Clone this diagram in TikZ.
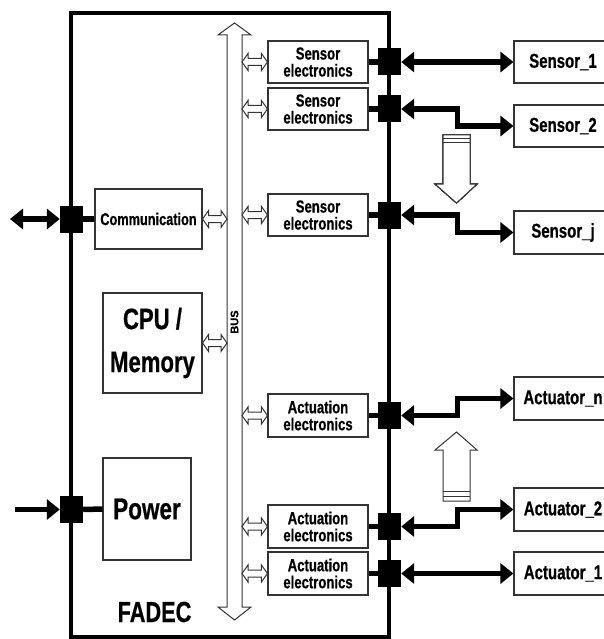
\documentclass[tikz,border=0pt]{standalone}
\usepackage{fontspec}
\setmainfont[FakeStretch=0.75,BoldFeatures={FakeBold=0.6}]{Liberation Sans}
\newfontfamily\busfont[BoldFeatures={FakeBold=0.4}]{Liberation Sans}
\usetikzlibrary{arrows.meta,calc}
\tikzset{bigtip/.tip={Triangle[length=13pt,width=20pt]}}
\newcommand{\hdarr}[2]{%
  \draw[hollow] let \p1=(#1), \p2=(#2) in
   (\x1,\y1) -- (\x1+6pt,\y1+8.5pt) -- (\x1+6pt,\y1+3.5pt) -- (\x2-6pt,\y1+3.5pt)
   -- (\x2-6pt,\y1+8.5pt) -- (\x2,\y1) -- (\x2-6pt,\y1-8.5pt) -- (\x2-6pt,\y1-3.5pt)
   -- (\x1+6pt,\y1-3.5pt) -- (\x1+6pt,\y1-8.5pt) -- cycle;}
\begin{document}
\begin{tikzpicture}[x=1pt,y=-1pt,
  box/.style={draw=black!80,line width=1.1pt,inner sep=0pt,fill=white},
  elec/.style={box,minimum width=100pt,minimum height=42pt,align=center,
     font=\fontsize{17.5}{17}\selectfont\bfseries},
  ext/.style={box,minimum width=98pt,minimum height=43pt,
     font=\fontsize{20}{22}\selectfont\bfseries},
  junc/.style={fill=black,minimum width=23pt,minimum height=27pt,inner sep=0pt},
  conn/.style={line width=5.5pt,line join=miter},
  hollow/.style={draw=black!80,line width=1pt,fill=white,line join=miter}]
\useasboundingbox (0,0) rectangle (604,639);
\clip (0,0) rectangle (604,639);
% FADEC frame
\draw[line width=3.5pt] (71,13) rectangle (389,637);
\node[font=\fontsize{29}{30}\selectfont\bfseries,anchor=base] (fadec) at (154.5,622) {FADEC};
% bus
\coordinate (busW) at (227,0);
\coordinate (busE) at (242,0);
\draw[hollow] (227,35) -- (218,35) -- (234.5,23) -- (251,35) -- (242,35) -- (242,607)
  -- (251,607) -- (234.5,620) -- (218,607) -- (227,607) -- cycle;
\node[rotate=90,font=\busfont\fontsize{11}{11}\selectfont\bfseries] (buslbl) at (234.5,322) {BUS};
% left blocks
\node[box,minimum width=107pt,minimum height=60pt,font=\fontsize{17}{18}\selectfont\bfseries] (comm) at (148.5,219) {Communication};
\node[box,minimum width=99pt,minimum height=100pt,align=center,font=\fontsize{29.5}{43}\selectfont\bfseries] (cpu) at (152.5,343) {CPU /\\Memory};
\node[box,minimum width=88pt,minimum height=102pt,font=\fontsize{30}{30}\selectfont\bfseries] (pow) at (147,509) {Power};
% electronics
\node[elec] (se1) at (318,62) {Sensor\\electronics};
\node[elec] (se2) at (318,109) {Sensor\\electronics};
\node[elec] (se3) at (318,215) {Sensor\\electronics};
\node[elec,minimum height=43pt] (ae1) at (318,415.5) {Actuation\\electronics};
\node[elec,minimum height=43pt] (ae2) at (318,526.5) {Actuation\\electronics};
\node[elec,minimum height=43pt] (ae3) at (318,573.5) {Actuation\\electronics};
% external boxes
\node[ext,minimum height=42pt] (s1) at (563,62) {Sensor\_1};
\node[ext,minimum height=42pt] (s2) at (563,126) {Sensor\_2};
\node[ext] (sj) at (563,232.5) {Sensor\_j};
\node[ext] (an) at (563,398.5) {Actuator\_n};
\node[ext] (a2) at (563,509.5) {Actuator\_2};
\node[ext] (a1) at (563,573.5) {Actuator\_1};
% junctions
\node[junc] (jc) at (71.5,219) {};
\node[junc] (jp) at (71.5,509.5) {};
\node[junc] (j1) at (389.5,62) {};
\node[junc] (j2) at (389.5,109) {};
\node[junc] (j3) at (389.5,215) {};
\node[junc] (j4) at (389.5,415.5) {};
\node[junc] (j5) at (389.5,526.5) {};
\node[junc] (j6) at (389.5,573.5) {};
% stubs
\draw[conn] (jc.east) -- (comm.west);
\draw[conn] (jp.east) -- (pow.west);
\foreach \e/\j in {se1/j1,se2/j2,se3/j3,ae1/j4,ae2/j5,ae3/j6}
  \draw[conn] (\e.east) -- (\j.west);
% outer connectors
\coordinate (commL) at (10,219);
\coordinate (powL) at (15,509.5);
\draw[conn,bigtip-bigtip] (commL) -- (jc.west);
\draw[conn,-bigtip] (powL) -- (jp.west);
\coordinate (bendx) at (457.5,0);
\draw[conn,bigtip-bigtip] (j1.east) -- (s1.west);
\draw[conn,bigtip-bigtip] (j2.east) -- (j2.east -| bendx) |- (s2.west);
\draw[conn,bigtip-bigtip] (j3.east) -- (j3.east -| bendx) |- (sj.west);
\draw[conn,bigtip-bigtip] (j4.east) -- (j4.east -| bendx) |- (an.west);
\draw[conn,bigtip-bigtip] (j5.east) -- (j5.east -| bendx) |- (a2.west);
\draw[conn,bigtip-bigtip] (j6.east) -- (a1.west);
% hollow bus links
\hdarr{comm.east}{busW |- comm.east}
\hdarr{cpu.east}{busW |- cpu.east}
\foreach \e in {se1,se2,se3,ae1,ae2,ae3}
  \hdarr{busE |- \e.west}{\e.west}
% big hollow arrows
\draw[hollow] (443,135) -- (470,135) -- (470,184) -- (477,184) -- (456.5,203)
  -- (435,184) -- (443,184) -- cycle;
\draw[hollow] (443,139) -- (470,139) (443,143) -- (470,143);
\draw[hollow] (443,501) -- (443,450) -- (435,450) -- (456.5,432) -- (477,450)
  -- (470,450) -- (470,501) -- cycle;
\draw[hollow] (443,491) -- (470,491) (443,496) -- (470,496);
\end{tikzpicture}
\end{document}
